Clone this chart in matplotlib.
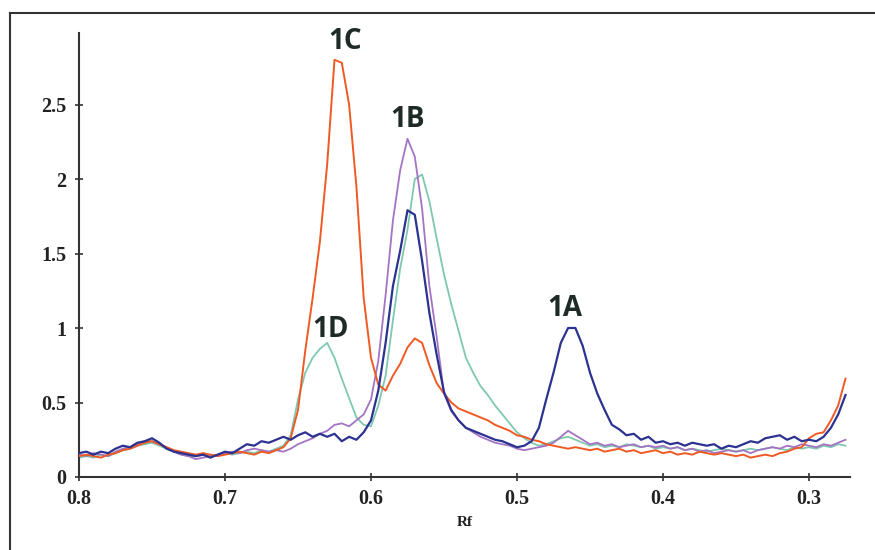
import numpy as np
import matplotlib
matplotlib.use("Agg")
import matplotlib.pyplot as plt
from matplotlib.lines import Line2D

# Rf grid, 0.800 -> 0.275 in steps of 0.005
rf = np.round(np.arange(0.800, 0.2749, -0.005), 3)

# 1A (navy)
s_1a = [0.16, 0.17, 0.15, 0.17, 0.16, 0.19, 0.21, 0.20, 0.23, 0.24,
        0.26, 0.23, 0.19, 0.17, 0.16, 0.15, 0.14, 0.15, 0.13, 0.15,
        0.17, 0.16, 0.19, 0.22, 0.21, 0.24, 0.23, 0.25, 0.27, 0.25,
        0.28, 0.30, 0.27, 0.29, 0.27, 0.29, 0.24, 0.27, 0.25, 0.30,
        0.38, 0.58, 0.90, 1.28, 1.52, 1.79, 1.76, 1.45, 1.10, 0.82,
        0.57, 0.45, 0.38, 0.33, 0.31, 0.29, 0.27, 0.25, 0.24, 0.22,
        0.20, 0.21, 0.24, 0.33, 0.52, 0.70, 0.90, 1.00, 1.00, 0.88,
        0.70, 0.56, 0.45, 0.35, 0.32, 0.28, 0.29, 0.25, 0.27, 0.23,
        0.24, 0.22, 0.23, 0.21, 0.23, 0.22, 0.21, 0.22, 0.19, 0.21,
        0.20, 0.22, 0.24, 0.23, 0.26, 0.27, 0.28, 0.25, 0.27, 0.24,
        0.25, 0.24, 0.27, 0.33, 0.42, 0.55]

# 1B (purple)
s_1b = [0.15, 0.14, 0.16, 0.15, 0.14, 0.17, 0.19, 0.20, 0.22, 0.24,
        0.24, 0.22, 0.20, 0.17, 0.15, 0.14, 0.12, 0.13, 0.14, 0.15,
        0.16, 0.17, 0.16, 0.18, 0.19, 0.18, 0.17, 0.18, 0.17, 0.19,
        0.22, 0.24, 0.26, 0.29, 0.31, 0.35, 0.36, 0.34, 0.38, 0.42,
        0.52, 0.78, 1.22, 1.72, 2.06, 2.27, 2.15, 1.80, 1.28, 0.94,
        0.56, 0.44, 0.38, 0.33, 0.30, 0.27, 0.25, 0.23, 0.22, 0.21,
        0.19, 0.18, 0.19, 0.20, 0.21, 0.23, 0.27, 0.31, 0.28, 0.25,
        0.22, 0.23, 0.21, 0.22, 0.20, 0.21, 0.22, 0.20, 0.21, 0.20,
        0.21, 0.19, 0.20, 0.18, 0.19, 0.17, 0.18, 0.16, 0.17, 0.18,
        0.17, 0.18, 0.16, 0.18, 0.19, 0.20, 0.19, 0.21, 0.20, 0.22,
        0.21, 0.20, 0.22, 0.21, 0.23, 0.25]

# 1C (orange)
s_1c = [0.14, 0.15, 0.14, 0.13, 0.15, 0.16, 0.18, 0.19, 0.21, 0.23,
        0.24, 0.22, 0.20, 0.18, 0.17, 0.16, 0.15, 0.16, 0.15, 0.14,
        0.15, 0.16, 0.17, 0.16, 0.15, 0.17, 0.16, 0.18, 0.20, 0.26,
        0.45, 0.85, 1.20, 1.58, 2.10, 2.80, 2.78, 2.50, 1.95, 1.20,
        0.80, 0.62, 0.58, 0.68, 0.76, 0.87, 0.93, 0.90, 0.75, 0.63,
        0.56, 0.50, 0.46, 0.44, 0.42, 0.40, 0.38, 0.35, 0.33, 0.31,
        0.28, 0.27, 0.25, 0.24, 0.22, 0.21, 0.20, 0.19, 0.20, 0.19,
        0.18, 0.19, 0.17, 0.18, 0.19, 0.17, 0.18, 0.16, 0.17, 0.18,
        0.16, 0.17, 0.15, 0.16, 0.15, 0.17, 0.16, 0.15, 0.16, 0.15,
        0.14, 0.15, 0.13, 0.14, 0.15, 0.14, 0.16, 0.17, 0.19, 0.20,
        0.26, 0.29, 0.30, 0.38, 0.48, 0.66]

# 1D (teal)
s_1d = [0.13, 0.14, 0.13, 0.15, 0.14, 0.16, 0.18, 0.19, 0.21, 0.22,
        0.23, 0.21, 0.19, 0.17, 0.15, 0.14, 0.14, 0.15, 0.14, 0.15,
        0.16, 0.15, 0.16, 0.17, 0.16, 0.18, 0.17, 0.19, 0.21, 0.28,
        0.52, 0.70, 0.80, 0.86, 0.90, 0.80, 0.66, 0.53, 0.40, 0.35,
        0.34, 0.48, 0.68, 1.05, 1.40, 1.66, 2.00, 2.03, 1.85, 1.60,
        1.36, 1.16, 0.98, 0.80, 0.70, 0.61, 0.55, 0.48, 0.42, 0.36,
        0.30, 0.26, 0.23, 0.21, 0.22, 0.24, 0.26, 0.27, 0.25, 0.23,
        0.21, 0.22, 0.20, 0.21, 0.20, 0.22, 0.21, 0.20, 0.21, 0.19,
        0.20, 0.19, 0.20, 0.18, 0.19, 0.18, 0.17, 0.18, 0.19, 0.18,
        0.17, 0.18, 0.19, 0.18, 0.19, 0.20, 0.19, 0.18, 0.20, 0.19,
        0.20, 0.19, 0.21, 0.20, 0.22, 0.21]

labels = ["1A", "1B", "1C", "1D"]
label_pos = [(0.467, 1.13), (0.575, 2.40), (0.618, 2.92), (0.628, 0.99)]

x_ticks = [0.8, 0.7, 0.6, 0.5, 0.4, 0.3]
x_ticklabels = ["0.8", "0.7", "0.6", "0.5", "0.4", "0.3"]
y_ticks = [0, 0.5, 1, 1.5, 2, 2.5]
y_ticklabels = ["0", "0.5", "1", "1.5", "2", "2.5"]

fig = plt.figure(figsize=(8.75, 5.5), dpi=100)
ax = fig.add_axes([79 / 875, 1 - 477 / 550, (850 - 79) / 875, (477 - 33) / 550])

ax.plot(rf, s_1d, color="#7fc8b0", lw=1.3, zorder=2)
ax.plot(rf, s_1b, color="#a474c4", lw=1.3, zorder=3)
ax.plot(rf, s_1c, color="#ef5a24", lw=1.4, zorder=4)
ax.plot(rf, s_1a, color="#2b3290", lw=1.6, zorder=5)

for lab, (lx, ly) in zip(labels, label_pos):
    ax.text(lx, ly, lab, ha="center", va="center", fontsize=20,
            fontweight="bold", family="Open Sans", color="#1e2a26")

ax.set_xlim(0.8, 0.8 - (850 - 79) / 1460)
ax.set_ylim(0, (477 - 33) / 149)
ax.set_xticks(x_ticks)
ax.set_xticklabels(x_ticklabels)
ax.set_yticks(y_ticks)
ax.set_yticklabels(y_ticklabels)

for side in ["top", "right"]:
    ax.spines[side].set_visible(False)
for side in ["left", "bottom"]:
    ax.spines[side].set_linewidth(1.5)
    ax.spines[side].set_color("#333333")

ax.tick_params(direction="inout", length=6, width=1.2, color="#333333",
               labelsize=14.5, pad=6)
for t in ax.get_xticklabels() + ax.get_yticklabels():
    t.set_family("Liberation Serif")
    t.set_fontweight("bold")
    t.set_color("#222222")

ax.set_xlabel("Rf", family="Liberation Serif", fontweight="bold",
              fontsize=11, color="#222222", labelpad=5)

# outer frame (cropped at right and bottom)
fig.add_artist(Line2D([10 / 875, 10 / 875], [0, 1 - 13 / 550],
                      transform=fig.transFigure, color="#333333", lw=1.5))
fig.add_artist(Line2D([10 / 875, 1], [1 - 13 / 550, 1 - 13 / 550],
                      transform=fig.transFigure, color="#333333", lw=1.5))

fig.savefig("out.png", dpi=100)
